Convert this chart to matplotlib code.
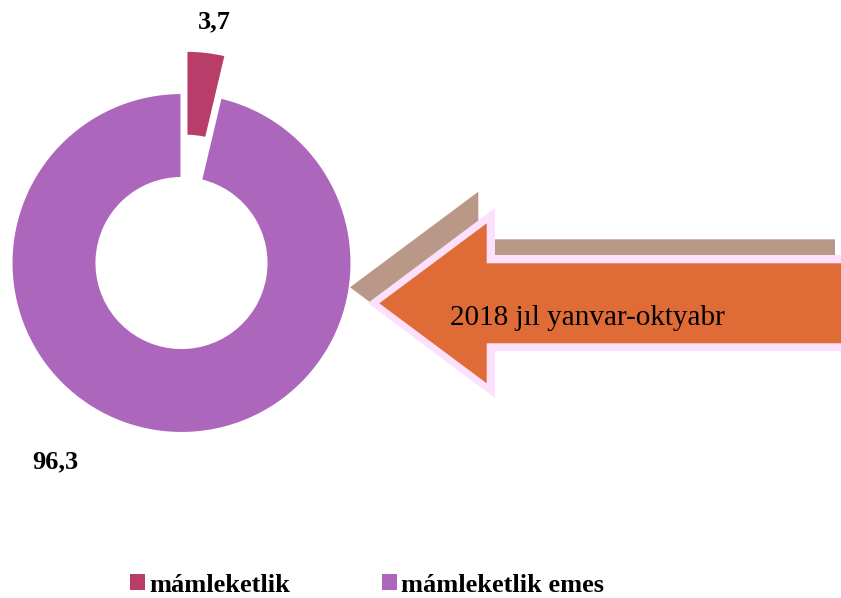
import matplotlib
matplotlib.use("Agg")
import matplotlib.pyplot as plt
from matplotlib.patches import Polygon, Patch

# data
categories = ["mámleketlik", "mámleketlik emes"]
values = [3.7, 96.3]
value_labels = ["3,7", "96,3"]
colors = ["#B83D68", "#AC66BC"]
arrow_text = "2018 jıl yanvar-oktyabr"

plt.rcParams['font.family'] = ['Liberation Serif', 'DejaVu Serif']

W, H = 841, 598
fig = plt.figure(figsize=(W / 100, H / 100), dpi=100)
ax = fig.add_axes([0, 0, 1, 1])


def fy(y):
    # pixel row (from top) -> axes y
    return H - y


# donut
cx, cy, r = 181.5, 263, 170
wedges, _ = ax.pie(values, colors=colors, startangle=90, counterclock=False,
                   explode=[0.25 * r, 0], radius=r, center=(cx, fy(cy)),
                   wedgeprops=dict(width=0.5 * r, edgecolor='white', linewidth=1.5),
                   frame=True)
ax.set_xlim(0, W)
ax.set_ylim(0, H)
ax.axis('off')

ax.text(214.5, fy(22), value_labels[0], fontsize=19, fontweight='bold',
        ha='center', va='center')
ax.text(55, fy(462), value_labels[1], fontsize=19, fontweight='bold',
        ha='center', va='center')


# arrow pointing left: tip x, centre y, head end x, head half-height, shaft half-height, right end
def arrow(tip, yc, hx, hh, sh, right):
    pts = [(tip, yc), (hx, yc - hh), (hx, yc - sh), (right, yc - sh),
           (right, yc + sh), (hx, yc + sh), (hx, yc + hh)]
    return [(x, fy(y)) for x, y in pts]


ax.add_patch(Polygon(arrow(350, 287.3, 478.3, 95.6, 48, 835), closed=True,
                     facecolor='#BA9888', edgecolor='none'))
ax.add_patch(Polygon(arrow(368, 303, 495, 95, 48, 860), closed=True,
                     facecolor='#FDE0FC', edgecolor='none'))
ax.add_patch(Polygon(arrow(379.3, 303.3, 486.7, 80, 40, 860), closed=True,
                     facecolor='#DF6C37', edgecolor='none'))
ax.text(587, fy(325), arrow_text, fontsize=21, ha='center', va='baseline')

# legend
handles = [Patch(facecolor=c, edgecolor='none') for c in colors]
fig.legend(handles, categories, loc='center', bbox_to_anchor=(367 / W, 1 - 585 / H),
           ncol=2, frameon=False, handlelength=0.58, handleheight=0.58,
           handletextpad=0.15, columnspacing=3.5, borderpad=0,
           prop=dict(family='Liberation Serif', weight='bold', size=19))

fig.savefig("out.png", dpi=100)
